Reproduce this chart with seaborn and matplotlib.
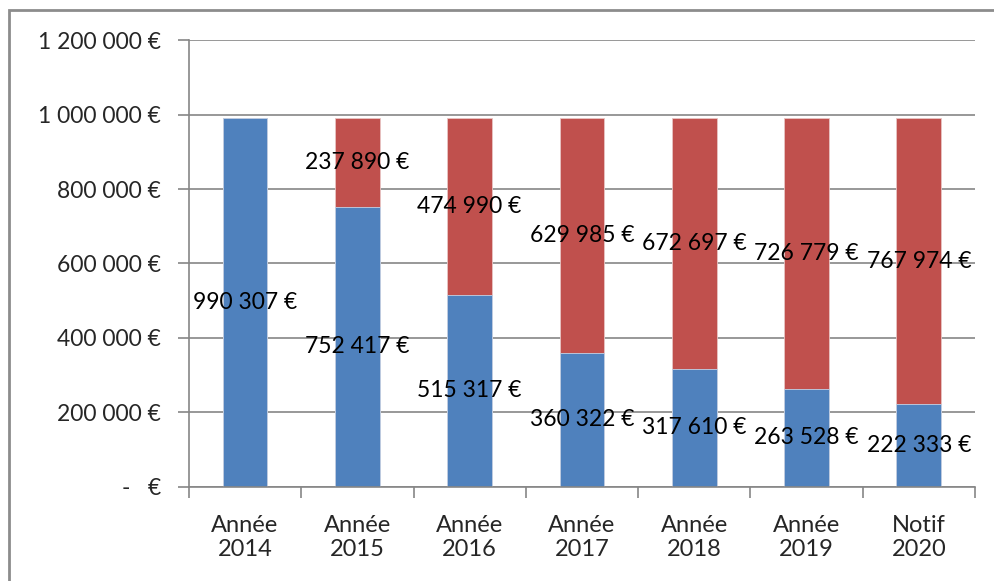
import numpy as np
import pandas as pd
import matplotlib
matplotlib.use("Agg")
import matplotlib.pyplot as plt
from matplotlib.patches import Rectangle
from matplotlib.ticker import FuncFormatter, FixedLocator
import seaborn as sns

# data
categories = ["Année\n2014", "Année\n2015", "Année\n2016", "Année\n2017",
              "Année\n2018", "Année\n2019", "Notif\n2020"]
blue_vals = [990307, 752417, 515317, 360322, 317610, 263528, 222333]
red_vals = [0, 237890, 474990, 629985, 672697, 726779, 767974]

BLUE = "#4F81BD"
RED = "#C0504D"
GRID = "#868686"

sns.set_theme(style="white")
plt.rcParams["font.family"] = ["Lato", "DejaVu Sans"]

df = pd.DataFrame({"cat": categories, "blue": blue_vals, "red": red_vals})
df["total"] = df["blue"] + df["red"]

fig = plt.figure(figsize=(9.94, 5.81), dpi=100)
ax = fig.add_axes([0.190, 0.162, 0.791, 0.769])

sns.barplot(data=df, x="cat", y="total", color=RED, width=0.4, ax=ax,
            saturation=1, edgecolor="#E8C4C3", linewidth=0.6)
sns.barplot(data=df, x="cat", y="blue", color=BLUE, width=0.4, ax=ax,
            saturation=1, edgecolor="#C4D3E6", linewidth=0.6)


def euro(v):
    s = f"{int(round(v)):,}".replace(",", " ")
    return s + " €"


for i, row in df.iterrows():
    ax.text(i, row["blue"] / 2, euro(row["blue"]), ha="center", va="center",
            fontsize=16.5, color="black")
    if row["red"] > 0:
        ax.text(i, row["blue"] + row["red"] / 2, euro(row["red"]), ha="center",
                va="center", fontsize=16.5, color="black")

ax.set_ylim(0, 1200000)
ax.set_xlim(-0.5, len(categories) - 0.5)
ax.yaxis.set_major_locator(FixedLocator(np.arange(0, 1200001, 200000)))
ax.yaxis.set_major_formatter(FuncFormatter(
    lambda v, p: "-   €" if v == 0 else euro(v)))
ax.grid(axis="y", color=GRID, linewidth=1.2)
ax.set_axisbelow(True)
ax.set_xlabel("")
ax.set_ylabel("")

for s in ["top", "right"]:
    ax.spines[s].set_visible(False)
for s in ["left", "bottom"]:
    ax.spines[s].set_color(GRID)
    ax.spines[s].set_linewidth(1.2)

ax.tick_params(axis="y", which="major", length=8, width=1.2, color=GRID,
               labelsize=16.5, pad=12, left=True)
ax.tick_params(axis="x", which="major", length=0, labelsize=17, pad=20)
ax.set_xticks(np.arange(-0.5, len(categories), 1), minor=True)
ax.tick_params(axis="x", which="minor", length=8, width=1.2, color=GRID,
               bottom=True)
for lab in ax.get_xticklabels():
    lab.set_linespacing(1.2)

fig.patches.append(Rectangle((0.009, -0.05), 1.2, 1.033, transform=fig.transFigure,
                             fill=False, edgecolor="#8C8C8C", linewidth=2))

fig.savefig("out.png", dpi=100)
